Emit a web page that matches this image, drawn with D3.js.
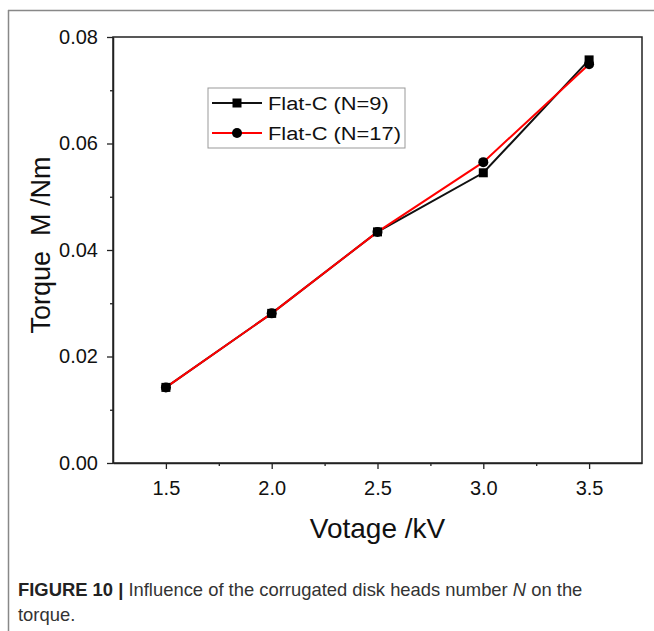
<!DOCTYPE html>
<html>
<head>
<meta charset="utf-8">
<script src="https://cdn.jsdelivr.net/npm/d3@7"></script>
<style>
  body { margin: 0; background: #fff; }
  svg { display: block; }
  text { font-family: "Liberation Sans", Arial, sans-serif; }
</style>
</head>
<body>
<div id="chart"></div>
<script>
// voltage values (kV)
var voltage = [1.5, 2.0, 2.5, 3.0, 3.5];
// torque for each disk head count
var torqueN9 = [0.0142, 0.0281, 0.0434, 0.0545, 0.0757];
var torqueN17 = [0.0142, 0.0281, 0.0434, 0.0565, 0.0749];
var seriesNames = ["Flat-C (N=9)", "Flat-C (N=17)"];
var xTicks = [1.5, 2.0, 2.5, 3.0, 3.5];
var yTicks = [0.00, 0.02, 0.04, 0.06, 0.08];

var W = 654, H = 631;
var margin = {top: 37, left: 113},
    width = 642 - 113,
    height = 463 - 37;

var svg = d3.select("#chart").append("svg")
    .attr("width", W)
    .attr("height", H);

// page frame lines (gray)
svg.append("line").attr("x1", 8).attr("x2", W).attr("y1", 10.5).attr("y2", 10.5)
    .attr("stroke", "#888").attr("stroke-width", 1.5);
svg.append("line").attr("x1", 8.5).attr("x2", 8.5).attr("y1", 10).attr("y2", H)
    .attr("stroke", "#888").attr("stroke-width", 1.5);

var g = svg.append("g")
    .attr("transform", "translate(" + margin.left + "," + margin.top + ")");

var x = d3.scaleLinear().domain([1.25, 3.75]).range([0, width]);
var y = d3.scaleLinear().domain([0, 0.08]).range([height, 0]);

// minor ticks
var xMinor = [1.75, 2.25, 2.75, 3.25];
var yMinor = [0.01, 0.03, 0.05, 0.07];

var xAxis = d3.axisBottom(x).tickValues(xTicks).tickFormat(d3.format(".1f"))
    .tickSize(6).tickSizeOuter(0);
var yAxis = d3.axisLeft(y).tickValues(yTicks).tickFormat(d3.format(".2f"))
    .tickSize(6).tickSizeOuter(0);

var xg = g.append("g").attr("transform", "translate(0," + height + ")").call(xAxis);
var yg = g.append("g").call(yAxis);

g.append("g").attr("transform", "translate(0," + height + ")")
    .call(d3.axisBottom(x).tickValues(xMinor).tickFormat("").tickSize(3).tickSizeOuter(0))
    .select(".domain").remove();
g.append("g")
    .call(d3.axisLeft(y).tickValues(yMinor).tickFormat("").tickSize(3).tickSizeOuter(0))
    .select(".domain").remove();

g.selectAll(".tick line").attr("stroke", "#222").attr("stroke-width", 1.3);
g.selectAll(".domain").attr("stroke", "#222").attr("stroke-width", 1.5);

xg.selectAll(".tick text")
    .attr("font-family", null)
    .attr("font-size", 20).attr("fill", "#111").attr("y", 18);
yg.selectAll(".tick text")
    .attr("font-family", null)
    .attr("font-size", 20).attr("fill", "#111").attr("x", -15);

// frame top and right
g.append("rect").attr("x", 0).attr("y", 0).attr("width", width).attr("height", height)
    .attr("fill", "none").attr("stroke", "#222").attr("stroke-width", 1.5);

// axis titles
g.append("text")
    .attr("x", x(2.5)).attr("y", 538 - margin.top)
    .attr("text-anchor", "middle")
    .attr("font-size", 28).attr("fill", "#111")
    .text("Votage /kV");

svg.append("text")
    .attr("transform", "translate(50,245) rotate(-90)")
    .attr("text-anchor", "middle")
    .attr("font-size", 27).attr("fill", "#111")
    .attr("xml:space", "preserve")
    .text("Torque  M /Nm");

var valueLine = d3.line()
    .x(function(d) { return x(d[0]); })
    .y(function(d) { return y(d[1]); });

var dataN9 = voltage.map(function(v, i) { return [v, torqueN9[i]]; });
var dataN17 = voltage.map(function(v, i) { return [v, torqueN17[i]]; });

g.append("path").datum(dataN9)
    .attr("d", valueLine).attr("fill", "none")
    .attr("stroke", "#111").attr("stroke-width", 2);
g.append("path").datum(dataN17)
    .attr("d", valueLine).attr("fill", "none")
    .attr("stroke", "#ff0000").attr("stroke-width", 2);

g.selectAll(".sq").data(dataN9).enter().append("rect")
    .attr("x", function(d) { return x(d[0]) - 4.5; })
    .attr("y", function(d) { return y(d[1]) - 4.5; })
    .attr("width", 9).attr("height", 9)
    .attr("fill", "#000");
g.selectAll(".ci").data(dataN17).enter().append("circle")
    .attr("cx", function(d) { return x(d[0]); })
    .attr("cy", function(d) { return y(d[1]); })
    .attr("r", 5)
    .attr("fill", "#000");

// legend
var legend = svg.append("g").attr("transform", "translate(208,88)");
legend.append("rect").attr("x", 0).attr("y", 0).attr("width", 197).attr("height", 60)
    .attr("fill", "#fff").attr("stroke", "#999").attr("stroke-width", 1);
var legColors = ["#111", "#ff0000"];
seriesNames.forEach(function(name, i) {
    var ly = 15 + i * 30;
    legend.append("line").attr("x1", 4).attr("x2", 54).attr("y1", ly).attr("y2", ly)
        .attr("stroke", legColors[i]).attr("stroke-width", 2);
    if (i === 0) {
        legend.append("rect").attr("x", 29 - 4.5).attr("y", ly - 4.5)
            .attr("width", 9).attr("height", 9).attr("fill", "#000");
    } else {
        legend.append("circle").attr("cx", 29).attr("cy", ly).attr("r", 5).attr("fill", "#000");
    }
    legend.append("text").attr("x", 60).attr("y", ly).attr("dy", "0.35em")
        .attr("font-size", 19).attr("fill", "#111")
        .attr("transform", "translate(60,0) scale(1.15,1) translate(-60,0)")
        .text(name);
});

// caption
var cap = svg.append("text").attr("x", 18).attr("y", 596)
    .attr("font-size", 18.4).attr("fill", "#333");
cap.append("tspan").attr("font-weight", "bold").attr("fill", "#222").text("FIGURE 10 | ");
cap.append("tspan").text("Influence of the corrugated disk heads number ");
cap.append("tspan").attr("font-style", "italic").text("N");
cap.append("tspan").text(" on the");
svg.append("text").attr("x", 18).attr("y", 621)
    .attr("font-size", 18.4).attr("fill", "#333")
    .text("torque.");
</script>
</body>
</html>
